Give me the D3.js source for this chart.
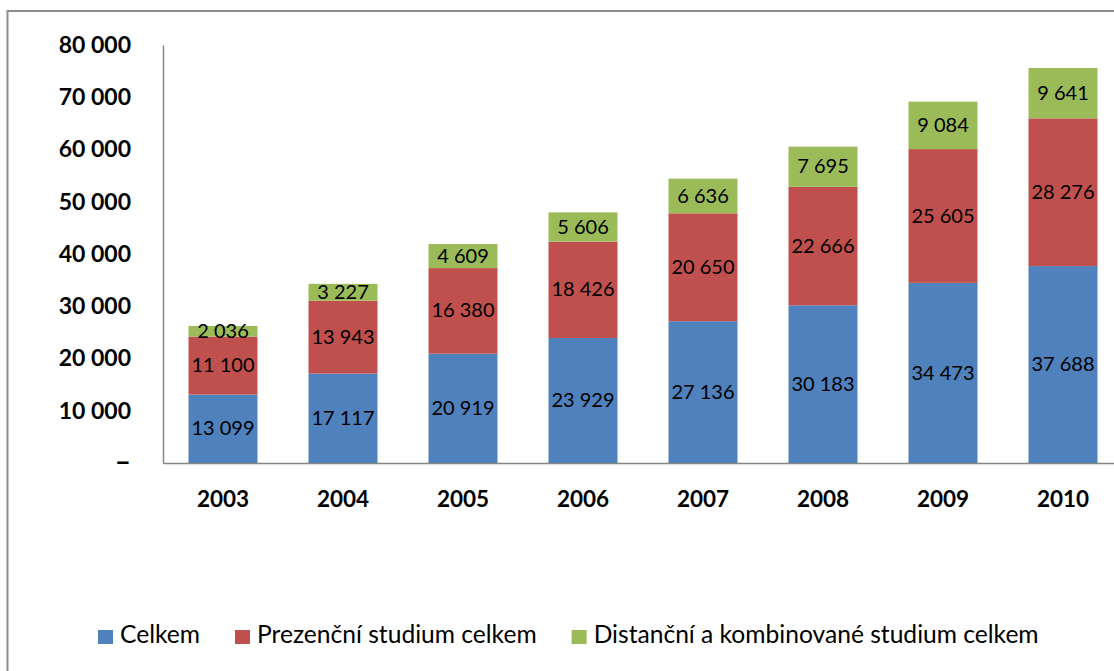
<!DOCTYPE html>
<html><head><meta charset="utf-8">
<script src="https://cdn.jsdelivr.net/npm/d3@7"></script>
<style>html,body{margin:0;padding:0;background:#fff;overflow:hidden}svg{display:block}</style>
</head><body>
<svg id="c" width="1114" height="671"></svg>
<script>
const years = ["2003","2004","2005","2006","2007","2008","2009","2010"];
const celkem = [13099,17117,20919,23929,27136,30183,34473,37688];
const prezencni = [11100,13943,16380,18426,20650,22666,25605,28276];
const distancni = [2036,3227,4609,5606,6636,7695,9084,9641];
const seriesNames = ["Celkem","Prezenční studium celkem","Distanční a kombinované studium celkem"];
const colors = ["#4F81BD","#C0504D","#9BBB59"];
const yTicks = [0,10000,20000,30000,40000,50000,60000,70000,80000];

const svg = d3.select("#c");
const FONT = "Lato, 'Open Sans', sans-serif";
const fmt = v => v === 0 ? "–" : d3.format(",")(v).replace(/,/g, " ");

// outer border
svg.append("rect").attr("x",7.5).attr("y",11).attr("width",1200).attr("height",800)
  .attr("fill","none").attr("stroke","#8c8c8c").attr("stroke-width",2);

const x0 = 163, x1 = 1123, yTop = 45, yBot = 463;
const x = d3.scaleBand().domain(years).range([x0,x1]).paddingInner(0.425).paddingOuter(0.2125);
const y = d3.scaleLinear().domain([0,80000]).range([yBot,yTop]);

const rows = years.map((yr,i)=>({year:yr, c:celkem[i], p:prezencni[i], d:distancni[i]}));
const stack = d3.stack().keys(["c","p","d"])(rows);

const g = svg.append("g");
stack.forEach((layer,li)=>{
  g.selectAll(null).data(layer).enter().append("rect")
    .attr("x", d=>x(d.data.year))
    .attr("width", x.bandwidth())
    .attr("y", d=>y(d[1]))
    .attr("height", d=>y(d[0])-y(d[1]))
    .attr("fill", colors[li]);
});
stack.forEach((layer,li)=>{
  g.selectAll(null).data(layer).enter().append("text")
    .attr("x", d=>x(d.data.year)+x.bandwidth()/2)
    .attr("y", d=>(y(d[0])+y(d[1]))/2 + 1.5)
    .attr("text-anchor","middle").attr("dominant-baseline","middle")
    .attr("font-family",FONT).attr("font-size","20px").attr("fill","#000")
    .text(d=>fmt(d[1]-d[0]));
});

// y axis
const yAxis = d3.axisLeft(y).tickValues(yTicks).tickSize(0).tickPadding(32).tickFormat(fmt);
const ya = svg.append("g").attr("transform",`translate(${x0},0)`).call(yAxis);
ya.select(".domain").attr("stroke","#868686").attr("stroke-width",1.5);
ya.selectAll("text").attr("font-family",FONT).attr("font-size","23px").attr("font-weight","bold").attr("fill","#000");
ya.selectAll(".tick").filter(d=>d===0).select("text").attr("font-size","28px").attr("dy","0.25em");

// x axis
const xAxis = d3.axisBottom(x).tickSize(0).tickPadding(28);
const xa = svg.append("g").attr("transform",`translate(0,${yBot})`).call(xAxis);
xa.select(".domain").attr("stroke","#868686").attr("stroke-width",1.5);
xa.selectAll("text").attr("font-family",FONT).attr("font-size","22.5px").attr("font-weight","bold").attr("fill","#000");

// legend
const leg = svg.append("g");
let lx = 98;
seriesNames.forEach((n,i)=>{
  leg.append("rect").attr("x",lx).attr("y",630).attr("width",15).attr("height",14).attr("fill",colors[i]);
  const t = leg.append("text").attr("x",lx+22).attr("y",637).attr("dominant-baseline","middle")
    .attr("font-family",FONT).attr("font-size","24.6px").attr("fill","#000").text(n);
  lx = lx + 22 + t.node().getComputedTextLength() + 35;
});
</script>
</body></html>
